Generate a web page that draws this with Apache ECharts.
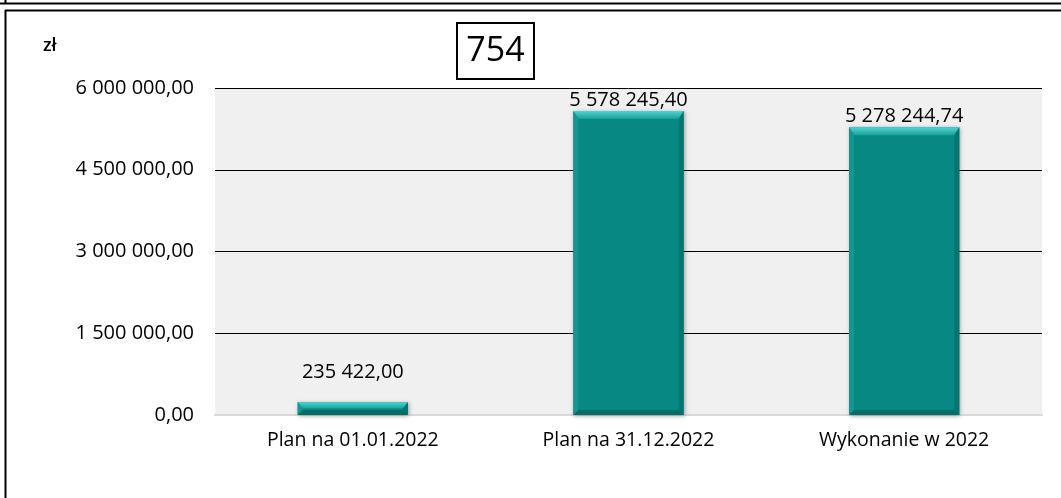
<!DOCTYPE html>
<html>
<head>
<meta charset="utf-8">
<script src="https://cdn.jsdelivr.net/npm/echarts@6/dist/echarts.min.js"></script>
<style>
html,body{margin:0;padding:0;background:#fff;}
#c{width:1061px;height:498px;}
</style>
</head>
<body>
<div id="c"></div>
<script>
var categories = ['Plan na 01.01.2022', 'Plan na 31.12.2022', 'Wykonanie w 2022'];
var values = [235422.00, 5578245.40, 5278244.74];
var yTicks = [0, 1500000, 3000000, 4500000, 6000000];
var titleText = '754';
var unitText = 'zł';

var FONT = '"Open Sans", "Noto Sans", sans-serif';

function fmt(v) {
  var s = Number(v).toFixed(2).split('.');
  var i = s[0].replace(/\B(?=(\d{3})+(?!\d))/g, ' ');
  return i + ',' + s[1];
}

var labelGap = [20, 1, 1];

function renderItem(params, api) {
  var xi = api.value(0), v = api.value(1);
  var top = api.coord([xi, v]);
  var base = api.coord([xi, 0]);
  var bw = api.size([1, 0])[0] * 0.4;
  var x0 = top[0] - bw / 2, x1 = top[0] + bw / 2;
  var y0 = top[1], y1 = base[1];
  var h = y1 - y0;
  var b = Math.min(8, h / 2);
  var bs = Math.min(5, h / 2);
  return {
    type: 'group',
    children: [
      { type: 'rect', shape: { x: x0, y: y0, width: bw, height: h },
        style: { fill: '#078883', shadowBlur: 4, shadowOffsetX: 1, shadowOffsetY: 1, shadowColor: 'rgba(0,0,0,0.35)' } },
      { type: 'polygon', shape: { points: [[x0, y0], [x1, y0], [x1 - bs, y0 + b], [x0 + bs, y0 + b]] },
        style: { fill: new echarts.graphic.LinearGradient(0, 0, 0, 1, [
          { offset: 0, color: '#4fd6ce' }, { offset: 1, color: '#14a09a' }]) } },
      { type: 'polygon', shape: { points: [[x0, y0], [x0 + bs, y0 + b], [x0 + bs, y1 - bs], [x0, y1]] },
        style: { fill: '#12968f' } },
      { type: 'polygon', shape: { points: [[x1, y0], [x1 - bs, y0 + b], [x1 - bs, y1 - bs], [x1, y1]] },
        style: { fill: '#06746f' } },
      { type: 'polygon', shape: { points: [[x0, y1], [x0 + bs, y1 - bs], [x1 - bs, y1 - bs], [x1, y1]] },
        style: { fill: '#066c67' } },
      { type: 'text', style: { text: fmt(v), x: top[0], y: y0 - labelGap[params.dataIndex],
        textAlign: 'center', textVerticalAlign: 'bottom', fill: '#000', font: '20px ' + FONT } }
    ]
  };
}

var chart = echarts.init(document.getElementById('c'), null, { renderer: 'canvas' });
chart.setOption({
  animation: false,
  backgroundColor: '#ffffff',
  grid: { left: 215, right: 19, top: 88, bottom: 83, show: true, backgroundColor: '#f0f0f0', borderWidth: 0 },
  xAxis: {
    type: 'category', data: categories,
    axisLine: { show: true, lineStyle: { color: '#d9d9d9', width: 2 } },
    axisTick: { show: false },
    axisLabel: { color: '#000', fontFamily: FONT, fontSize: 19.5, margin: 15 }
  },
  yAxis: {
    type: 'value', min: yTicks[0], max: yTicks[yTicks.length - 1], interval: yTicks[1] - yTicks[0],
    axisLine: { show: false }, axisTick: { show: false },
    splitLine: { show: true, lineStyle: { color: ['#d9d9d9', '#000', '#000', '#000', '#000'], width: 1 } },
    axisLabel: { color: '#000', fontFamily: FONT, fontSize: 20, margin: 21, formatter: fmt }
  },
  series: [{
    type: 'custom', renderItem: renderItem,
    data: values.map(function (v, i) { return [i, v]; }),
    encode: { x: 0, y: 1 }, z: 3
  }],
  graphic: [
    { type: 'line', shape: { x1: 0, y1: 3.5, x2: 1061, y2: 3.5 }, style: { stroke: '#000', lineWidth: 2 } },
    { type: 'line', shape: { x1: 5.5, y1: 0, x2: 5.5, y2: 4 }, style: { stroke: '#000', lineWidth: 2 } },
    { type: 'line', shape: { x1: 5, y1: 10.5, x2: 1061, y2: 10.5 }, style: { stroke: '#000', lineWidth: 2 } },
    { type: 'line', shape: { x1: 5.5, y1: 10, x2: 5.5, y2: 498 }, style: { stroke: '#000', lineWidth: 2 } },
    { type: 'rect', shape: { x: 457, y: 23, width: 77, height: 56 }, style: { fill: '#fff', stroke: '#000', lineWidth: 2 } },
    { type: 'text', x: 495.5, y: 51, style: { text: titleText, textAlign: 'center', textVerticalAlign: 'middle', fill: '#000', font: '34px ' + FONT } },
    { type: 'text', x: 43, y: 46, style: { text: unitText, textAlign: 'left', textVerticalAlign: 'middle', fill: '#000', font: '600 18px ' + FONT } }
  ]
});
</script>
</body>
</html>
